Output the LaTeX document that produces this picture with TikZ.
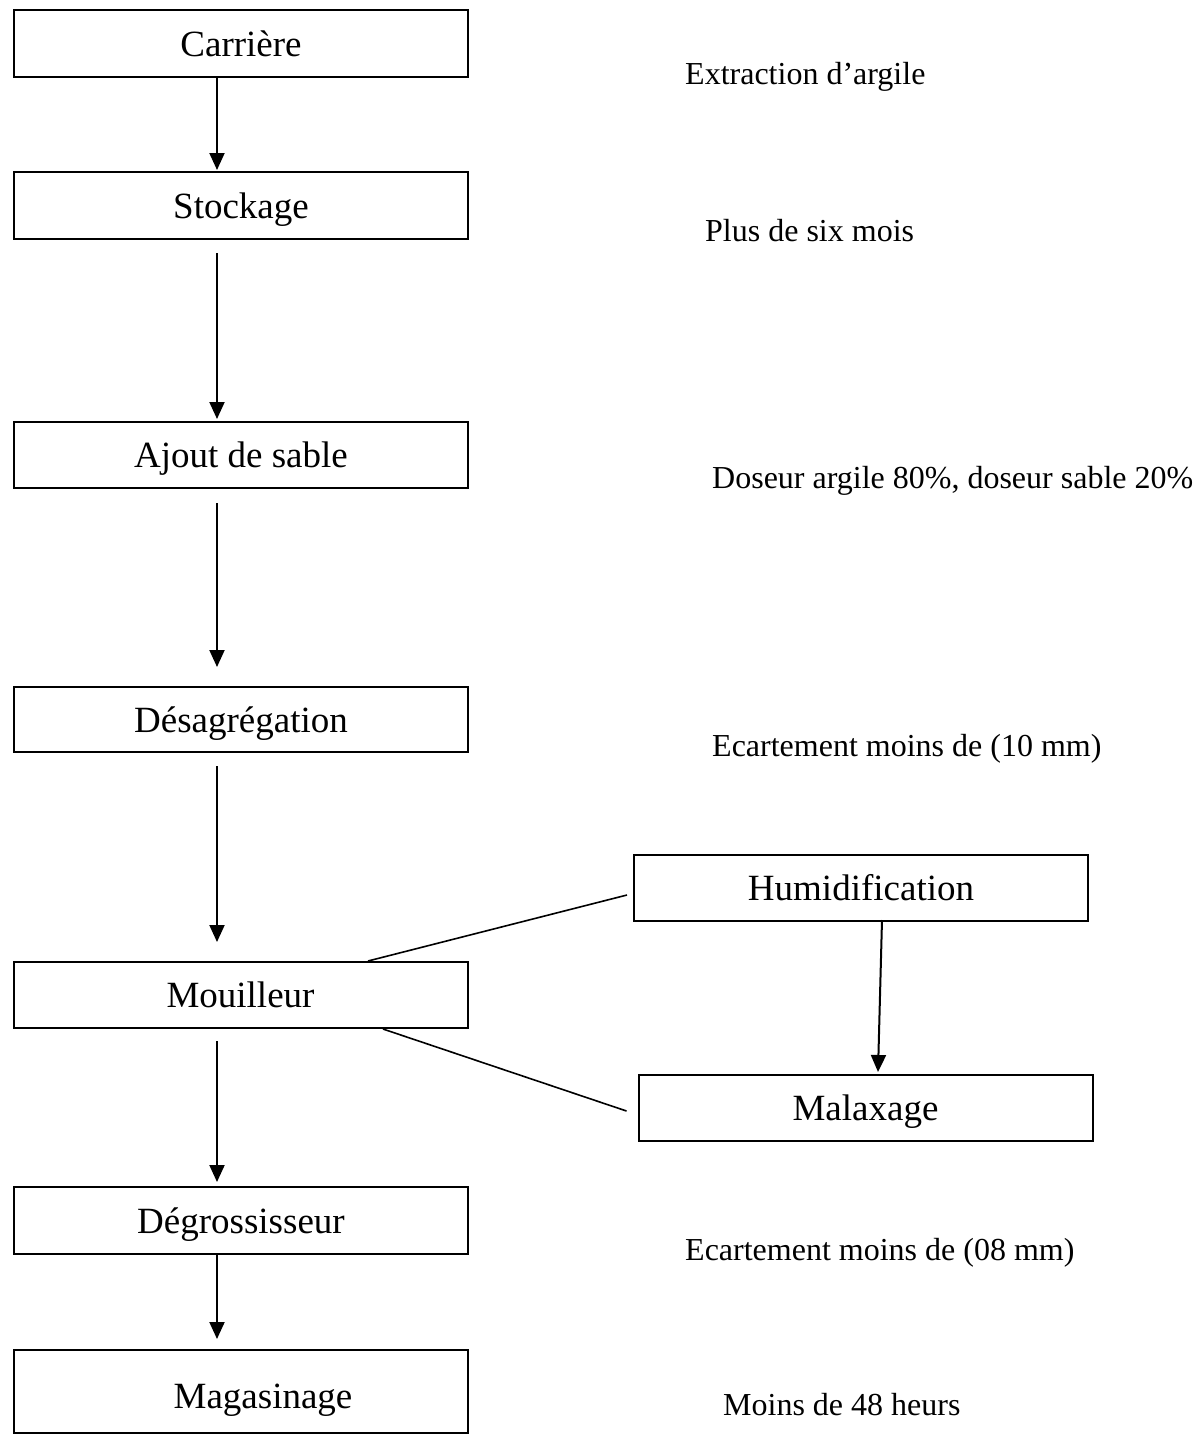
\documentclass[tikz,border=0pt]{standalone}
\usepackage{fontspec}
\setmainfont{Liberation Serif}
\usetikzlibrary{arrows.meta}
\begin{document}
\begin{tikzpicture}[x=1pt,y=-1pt,
  box/.style={draw,line width=2pt,inner sep=0pt,minimum width=454pt,minimum height=66pt,
    text height=25pt,text depth=0pt,font=\fontsize{37}{44}\selectfont},
  note/.style={anchor=base west,inner sep=0pt,font=\fontsize{32}{38}\selectfont},
  arr/.style={line width=2pt,-{Triangle[width=15pt,length=17pt]}},
  link/.style={line width=1.6pt}]
\useasboundingbox (0,0) rectangle (1202,1436);

% left column
\node[box,minimum height=67pt] (carr) at (241,43.5) {Carrière};
\node[box,minimum height=67pt] (stock) at (241,205.5) {Stockage};
\node[box] (ajout) at (241,455) {Ajout de sable};
\node[box,minimum height=65pt] (desag) at (241,719.5) {Désagrégation};
\node[box] (mouil) at (240.5,995) {Mouilleur};
\node[box,minimum height=67pt] (degro) at (241,1220.5) {Dégrossisseur};
\node[box,minimum height=83pt] (magas) at (241,1391.5) {\hspace*{44pt}\raisebox{-4pt}{Magasinage}};

% right boxes
\node[box] (humid) at (861,888) {Humidification};
\node[box] (malax) at (865.5,1108) {Malaxage};

% notes
\node[note] (n1) at (685,84) {Extraction d’argile};
\node[note] (n2) at (705,241) {Plus de six mois};
\node[note] (n3) at (712,488) {Doseur argile 80\%, doseur sable 20\%};
\node[note] (n4) at (712,756) {Ecartement moins de (10 mm)};
\node[note] (n5) at (685,1260) {Ecartement moins de (08 mm)};
\node[note] (n6) at (723,1415) {Moins de 48 heurs};

% vertical arrows
\draw[arr,shorten >=1pt] ([xshift=-24pt]carr.south) -- ([xshift=-24pt]stock.north);
\draw[arr,shorten <=13pt,shorten >=2pt] ([xshift=-24pt]stock.south) -- ([xshift=-24pt]ajout.north);
\draw[arr,shorten <=14pt,shorten >=19pt] ([xshift=-24pt]ajout.south) -- ([xshift=-24pt]desag.north);
\draw[arr,shorten <=13pt,shorten >=19pt] ([xshift=-24pt]desag.south) -- ([xshift=-23.5pt]mouil.north);
\draw[arr,shorten <=12pt,shorten >=4pt] ([xshift=-23.5pt]mouil.south) -- ([xshift=-24pt]degro.north);
\draw[arr,shorten >=10pt] ([xshift=-24pt]degro.south) -- ([xshift=-24pt]magas.north);

% side connectors
\draw[link] ([xshift=127.5pt]mouil.north) -- ([xshift=-6pt,yshift=-7pt]humid.west);
\draw[link] ([xshift=142.5pt]mouil.south) -- ([xshift=-11pt,yshift=-3pt]malax.west);
\draw[arr] ([xshift=21pt,yshift=2pt]humid.south) -- ([xshift=12.5pt,yshift=2pt]malax.north);
\end{tikzpicture}
\end{document}
